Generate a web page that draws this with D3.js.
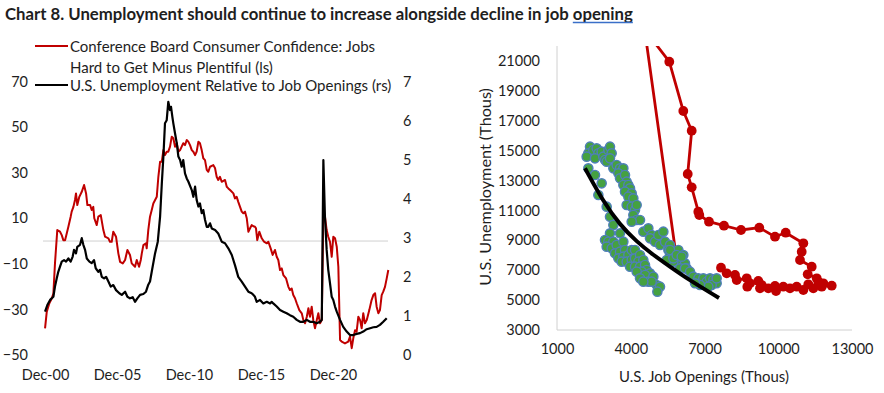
<!DOCTYPE html>
<html><head><meta charset="utf-8">
<script src="https://cdn.jsdelivr.net/npm/d3@7"></script>
<style>
body{margin:0;background:#fff}
svg{display:block}
text{font-family:Lato,"Open Sans",sans-serif;fill:#1e1e1e}
</style>
</head><body>
<svg id="c" width="884" height="393"></svg>
<script>
// ---------------- DATA ----------------
const titleText = "Chart 8. Unemployment should continue to increase alongside decline in job opening";
const underlinedWord = "opening";
const legendRedLines = ["Conference Board Consumer Confidence: Jobs", "Hard to Get Minus Plentiful (ls)"];
const legendBlackLine = "U.S. Unemployment Relative to Job Openings (rs)";

const leftTicks = [70, 50, 30, 10, -10, -30, -50];
const rightTicks = [0, 1, 2, 3, 4, 5, 6, 7];
const timeTicks = [2000.917, 2005.917, 2010.917, 2015.917, 2020.917];
const timeTickLabels = ["Dec-00", "Dec-05", "Dec-10", "Dec-15", "Dec-20"];

// Conference Board: Jobs Hard to Get minus Plentiful (left scale) [decimal year, value]
const jobsHardMinusPlentiful = [
[2000.92,-38.3],[2001.04,-31],[2001.22,-27.3],[2001.39,-25.1],[2001.50,-23],[2001.61,-9.8],[2001.77,4.8],[2001.96,4.1],
[2002.08,2.6],[2002.19,0.4],[2002.31,0.4],[2002.43,3.4],[2002.54,6.3],[2002.70,10.7],[2002.77,12.9],[2002.89,15],
[2003.00,18],[2003.07,20.9],[2003.16,15.8],[2003.30,19.4],[2003.47,21.6],[2003.63,24.6],[2003.77,20.9],[2003.86,15.8],
[2004.05,15.8],[2004.16,13.6],[2004.27,15],[2004.34,10],[2004.51,7],[2004.62,10.7],[2004.79,11.4],[2004.97,4.8],
[2005.09,1.9],[2005.32,1.2],[2005.43,-0.3],[2005.55,-0.3],[2005.66,4.1],[2005.85,1.9],[2006.01,-5.4],[2006.13,-9.1],
[2006.32,-9.8],[2006.48,-8.3],[2006.64,-3.9],[2006.82,-6.1],[2006.94,-9.8],[2007.17,-11.3],[2007.29,-8.3],[2007.45,-11.3],
[2007.57,-8.3],[2007.64,-5.4],[2007.75,-1.8],[2007.93,-1],[2007.98,-3.2],[2008.09,4.8],[2008.21,10.7],[2008.33,13.6],
[2008.44,16.5],[2008.68,19.4],[2008.79,28.2],[2008.91,34.8],[2009.03,34.8],[2009.14,39.9],[2009.25,37.7],[2009.37,39.2],
[2009.48,39.2],[2009.60,41.4],[2009.72,45.8],[2009.83,45.1],[2009.95,41.4],[2010.07,42.9],[2010.18,39.2],[2010.30,39.9],
[2010.41,41.4],[2010.52,42.9],[2010.64,42.1],[2010.76,44.3],[2010.87,43.6],[2010.99,42.1],[2011.11,39.9],[2011.22,39.2],
[2011.34,37.7],[2011.45,39.2],[2011.57,43.6],[2011.68,42.9],[2011.80,39.9],[2011.91,36.3],[2012.03,35.5],[2012.15,31.2],
[2012.26,30.4],[2012.38,32.6],[2012.61,33.3],[2012.73,31.9],[2012.84,28.2],[2012.95,26.8],[2013.07,28.2],[2013.19,26],
[2013.42,26.8],[2013.54,23.8],[2013.65,23.1],[2013.77,22.4],[2014.00,20.9],[2014.11,18.7],[2014.23,19.4],[2014.34,17.2],
[2014.58,12.9],[2014.69,12.2],[2014.81,12.9],[2014.93,10],[2015.04,4.1],[2015.16,5.6],[2015.27,7],[2015.39,6.5],
[2015.50,6.3],[2015.57,5.6],[2015.66,0.4],[2015.80,4.1],[2015.97,1.2],[2016.13,-0.3],[2016.32,-1],[2016.43,-0.3],
[2016.59,-3.2],[2016.73,-6.1],[2016.89,-3.9],[2017.01,-6.9],[2017.12,-8.3],[2017.24,-12.7],[2017.36,-12],[2017.47,-14.9],
[2017.66,-16.4],[2017.82,-20.1],[2017.93,-21.5],[2018.05,-20.8],[2018.16,-23.7],[2018.28,-25.1],[2018.40,-27.3],[2018.58,-30.3],
[2018.75,-31.7],[2018.86,-34.7],[2018.98,-36.1],[2019.10,-33.2],[2019.21,-29.5],[2019.32,-33.2],[2019.44,-28.8],[2019.55,-34.7],
[2019.67,-38.3],[2019.79,-34.7],[2019.90,-31.7],[2020.02,-36.1],[2020.14,-34.7],[2020.25,12.2],[2020.36,10.7],[2020.48,4.8],
[2020.59,1.9],[2020.71,-0.3],[2020.83,-6.9],[2020.94,1.9],[2021.06,1.2],[2021.18,-2.5],[2021.29,-11.3],[2021.41,-43.4],
[2021.52,-44.1],[2021.75,-44.9],[2021.98,-44.1],[2022.10,-41.9],[2022.22,-47],[2022.33,-42.6],[2022.45,-39.1],[2022.56,-39.8],
[2022.68,-33.2],[2022.80,-34.7],[2022.91,-38.3],[2023.02,-31.7],[2023.14,-36.1],[2023.26,-34.7],[2023.44,-30.3],[2023.60,-25.9],
[2023.72,-23.7],[2023.84,-22.9],[2023.95,-28.8],[2024.07,-31.7],[2024.18,-30.3],[2024.30,-23.7],[2024.41,-22.2],[2024.53,-20.1],
[2024.65,-16.4],[2024.76,-12.7]
];

// U.S. unemployment relative to job openings (right scale) [decimal year, ratio]
const unemploymentPerOpening = [
[2000.92,1.11],[2001.08,1.28],[2001.27,1.41],[2001.50,1.49],[2001.61,1.75],[2001.73,1.96],[2001.84,2.13],[2001.96,2.26],
[2002.08,2.39],[2002.24,2.43],[2002.38,2.39],[2002.54,2.47],[2002.70,2.39],[2002.84,2.52],[2002.93,2.69],[2003.07,2.6],
[2003.16,2.77],[2003.35,2.82],[2003.47,2.99],[2003.58,2.82],[2003.70,2.69],[2003.82,2.47],[2004.00,2.39],[2004.16,2.35],
[2004.32,2.43],[2004.44,2.22],[2004.62,2.13],[2004.74,2.18],[2004.86,2.0],[2005.02,1.96],[2005.16,2.0],[2005.32,1.88],
[2005.48,1.75],[2005.66,1.79],[2005.85,1.66],[2006.08,1.58],[2006.25,1.54],[2006.48,1.62],[2006.64,1.49],[2006.82,1.45],
[2007.01,1.48],[2007.17,1.36],[2007.33,1.45],[2007.52,1.54],[2007.75,1.56],[2007.93,1.62],[2008.09,1.8],[2008.21,1.88],
[2008.33,2.13],[2008.56,2.6],[2008.75,2.9],[2008.91,3.54],[2009.03,4.39],[2009.14,5.08],[2009.25,5.93],[2009.37,6.01],
[2009.48,6.48],[2009.60,6.27],[2009.67,6.35],[2009.76,6.1],[2009.83,5.93],[2009.95,5.67],[2010.07,5.42],[2010.18,5.08],
[2010.30,4.99],[2010.41,4.82],[2010.52,4.99],[2010.64,4.65],[2010.76,4.52],[2010.87,4.44],[2011.11,4.22],[2011.22,4.05],
[2011.34,4.31],[2011.45,3.97],[2011.57,3.8],[2011.68,3.88],[2011.80,3.63],[2011.91,3.71],[2012.03,3.46],[2012.15,3.28],
[2012.26,3.28],[2012.38,3.37],[2012.50,3.24],[2012.73,3.2],[2012.95,3.11],[2013.19,2.9],[2013.42,2.86],[2013.65,2.73],
[2013.89,2.56],[2014.11,2.3],[2014.34,2.0],[2014.58,1.88],[2014.81,1.75],[2015.04,1.62],[2015.27,1.58],[2015.39,1.54],
[2015.50,1.49],[2015.62,1.36],[2015.85,1.41],[2016.08,1.32],[2016.32,1.36],[2016.55,1.32],[2016.66,1.36],[2016.77,1.32],
[2017.01,1.24],[2017.24,1.15],[2017.47,1.11],[2017.70,1.07],[2017.93,1.02],[2018.16,0.98],[2018.40,0.9],[2018.63,0.85],
[2018.86,0.85],[2019.10,0.9],[2019.32,0.85],[2019.55,0.85],[2019.79,0.81],[2020.02,0.85],[2020.14,0.9],[2020.25,4.99],
[2020.36,3.54],[2020.48,2.69],[2020.59,2.18],[2020.71,1.84],[2020.83,1.49],[2020.94,1.41],[2021.06,1.24],[2021.18,1.11],
[2021.41,0.9],[2021.63,0.72],[2021.87,0.6],[2022.10,0.51],[2022.33,0.51],[2022.56,0.54],[2022.80,0.56],[2023.02,0.6],
[2023.26,0.66],[2023.44,0.68],[2023.72,0.71],[2023.95,0.72],[2024.18,0.77],[2024.41,0.85],[2024.65,0.94]
];

// Scatter: pre-2020 monthly [job openings, unemployment] (thousands)
const preCovidPoints = [
[2343,15265],[2275,14820],[2207,14596],[2478,15043],[2614,15154],[2682,14820],[2546,14485],[2817,14931],[2885,14596],
[2953,14374],[3088,15043],[3156,15265],[3224,14820],[3021,14262],[3156,14485],[3292,13816],[3427,14039],[3563,13816],
[3699,13816],[3495,13481],[3563,13147],[3766,13370],[3834,12924],[3699,12701],[3902,12701],[3970,12478],[3766,12255],
[4038,12144],[3902,11921],[3834,11363],[4105,11809],[4038,11252],[4173,11029],[4241,11363],[4105,10694],[4241,10360],
[4377,10360],[4038,10248],[2275,13816],[2546,13370],[2817,12812],[2682,12032],[3021,11252],
[3156,10583],[3292,10025],[3156,9468],[3563,9468],[2953,9022],[3088,8910],[3292,8910],[3021,8576],[3224,8464],[3427,8687],
[3699,8910],[3360,8130],[3563,8241],[3766,8353],[3495,7795],[3699,7907],[3902,8018],[4038,8353],[4173,8353],[3631,7572],
[3834,7572],[4038,7684],[4173,7795],[4377,8018],[4309,7572],[4512,7684],[3970,7238],[4173,7238],[4377,7238],[4580,7349],
[4648,7014],[4444,6903],[4241,6903],[4783,6791],[4580,6680],[4377,6457],[4716,6234],[4919,6568],[5055,6011],[5190,5900],
[5082,5565],[4851,6234],[4512,6234],
[4512,9579],[4716,9802],[4851,9356],[4783,9133],[4987,8910],[5122,9356],[5326,9579],[5190,8687],[5394,8910],[5597,8687],
[5529,8353],[5733,8130],[5936,8353],[5597,8018],[5868,7907],[6139,8018],[6004,7572],[6207,7461],[5733,7572],[5461,7684],
[6275,7126],[6004,7126],[5597,8353],[5733,7795],[5868,8018],[6072,7907],[6207,7126],[6411,6903],[6546,6569],[6750,6457],
[6953,6457],[7089,6234],[7224,6457],[7360,6346],[7495,6123],[7292,6011],[7157,5900],[7495,6457],[6817,6011],[6614,6123]
];

// Scatter: 2020 onward path [job openings, unemployment] (thousands)
const covidPath = [
[5800,8500],[4565,23100],[5568,20950],[6138,17650],[6479,16334],[6317,13437],[6479,12547],[6748,10915],[6789,10694],
[7183,10245],[7793,9978],[8485,9690],[9229,9844],[9868,9242],[10303,9510],[11020,8800],[10954,8238],[10885,7683],
[11361,7235],[11198,6726],[11565,6459],[11833,6124],[12175,5964],[11768,5897],[11630,6231],[11426,5790],[11223,6057],
[11020,5676],[10751,5897],[10478,5790],[10206,5897],[9909,5609],[9868,5944],[9596,5790],[9258,5790],[9327,6011],
[9189,6278],[8741,5897],[8851,6124],[8717,6459],[8310,6345],[8241,6680],[7903,6793],[7671,7168]
];

// Trend curve through the pre-2020 scatter
const trendPoints = [[2139,13818],[2884,11583],[3563,10025],[4242,8907],[4917,8018],[5597,7235],[6341,6380],[7590,5141]];

const scatterXTicks = [1000, 4000, 7000, 10000, 13000];
const scatterYTicks = [3000, 5000, 7000, 9000, 11000, 13000, 15000, 17000, 19000, 21000];
const scatterXTitle = "U.S. Job Openings (Thous)";
const scatterYTitle = "U.S. Unemployment (Thous)";

// ---------------- DRAW ----------------
const RED = "#c00000", BLACK = "#000000";
const TICK_FS = 14.5;
const svg = d3.select("#c");

function fit(sel, w) {
  const n = sel.node();
  const cur = n.getComputedTextLength();
  const fs = parseFloat(sel.attr("font-size"));
  sel.attr("font-size", (fs * w / cur).toFixed(2));
}
function styleTicks(g) {
  g.select(".domain").remove();
  g.selectAll("text").attr("font-size", TICK_FS).attr("font-family", "Lato").attr("fill", "#1e1e1e");
}

// Title
const title = svg.append("text").attr("x", 5).attr("y", 13).attr("dominant-baseline", "central")
  .attr("font-weight", "bold").attr("font-size", 15).text(titleText);
fit(title, 628);
{
  const n = title.node();
  const idx = titleText.lastIndexOf(underlinedWord);
  const x0 = n.getStartPositionOfChar(idx).x;
  const x1 = n.getEndPositionOfChar(titleText.length - 1).x;
  svg.append("line").attr("x1", x0).attr("x2", x1).attr("y1", 22.5).attr("y2", 22.5)
    .attr("stroke", "#3a6fc8").attr("stroke-width", 1.6);
}

// ---- Left chart ----
const xT = d3.scaleLinear().domain([2000.917, 2024.76]).range([45, 388.3]);
const yL = d3.scaleLinear().domain([-50, 70]).range([355, 81.5]);
const yR = d3.scaleLinear().domain([0, 7]).range([355, 81.5]);

const gL = svg.append("g");
gL.append("line").attr("x1", 43).attr("x2", 388).attr("y1", yL(0)).attr("y2", yL(0))
  .attr("stroke", "#d0d0d0").attr("stroke-width", 1);

gL.append("g").attr("transform", "translate(28,0)")
  .call(d3.axisLeft(yL).tickValues(leftTicks).tickSize(0).tickPadding(0).tickFormat(d3.format("d")))
  .call(styleTicks);
gL.append("g").attr("transform", "translate(403,0)")
  .call(d3.axisRight(yR).tickValues(rightTicks).tickSize(0).tickPadding(0).tickFormat(d3.format("d")))
  .call(styleTicks);
gL.append("g").attr("transform", "translate(0,370)")
  .call(d3.axisBottom(xT).tickValues(timeTicks).tickSize(0).tickPadding(0).tickFormat((d, i) => timeTickLabels[i]))
  .call(styleTicks);

gL.append("path").datum(jobsHardMinusPlentiful)
  .attr("d", d3.line().x(d => xT(d[0])).y(d => yL(d[1])))
  .attr("fill", "none").attr("stroke", RED).attr("stroke-width", 2).attr("stroke-linejoin", "round");
gL.append("path").datum(unemploymentPerOpening)
  .attr("d", d3.line().x(d => xT(d[0])).y(d => yR(d[1])))
  .attr("fill", "none").attr("stroke", BLACK).attr("stroke-width", 2.2).attr("stroke-linejoin", "round");

// Legend
const legend = svg.append("g");
legend.append("line").attr("x1", 35).attr("x2", 68).attr("y1", 46).attr("y2", 46).attr("stroke", RED).attr("stroke-width", 2);
legend.append("line").attr("x1", 35).attr("x2", 68).attr("y1", 85).attr("y2", 85).attr("stroke", BLACK).attr("stroke-width", 2.2);
const l1 = legend.append("text").attr("x", 70).attr("y", 46).attr("dominant-baseline", "central").attr("font-size", 14).text(legendRedLines[0]);
fit(l1, 305);
const fsL = l1.attr("font-size");
legend.append("text").attr("x", 70).attr("y", 66.5).attr("dominant-baseline", "central").attr("font-size", fsL).text(legendRedLines[1]);
legend.append("text").attr("x", 70).attr("y", 85).attr("dominant-baseline", "central").attr("font-size", fsL).text(legendBlackLine);

// ---- Right chart (scatter) ----
const xS = d3.scaleLinear().domain([1000, 13000]).range([557, 852]);
const yS = d3.scaleLinear().domain([3000, 22000]).range([330, 46]);
const gS = svg.append("g");
svg.append("clipPath").attr("id", "plotclip").append("rect")
  .attr("x", 557).attr("y", 46).attr("width", 300).attr("height", 290);

gS.append("line").attr("x1", 557).attr("x2", 557).attr("y1", 46).attr("y2", 330).attr("stroke", "#d0d0d0");
gS.append("line").attr("x1", 557).attr("x2", 852).attr("y1", 330).attr("y2", 330).attr("stroke", "#d0d0d0");

gS.append("g").attr("transform", "translate(540,0)")
  .call(d3.axisLeft(yS).tickValues(scatterYTicks).tickSize(0).tickPadding(0).tickFormat(d3.format("d")))
  .call(styleTicks);
gS.append("g").attr("transform", "translate(0,344)")
  .call(d3.axisBottom(xS).tickValues(scatterXTicks).tickSize(0).tickPadding(0).tickFormat(d3.format("d")))
  .call(styleTicks);

const xt = gS.append("text").attr("x", 704).attr("y", 376).attr("text-anchor", "middle")
  .attr("dominant-baseline", "central").attr("font-size", 14).text(scatterXTitle);
fit(xt, 170);
const ytl = gS.append("text").attr("transform", "translate(484,187) rotate(-90)").attr("text-anchor", "middle")
  .attr("dominant-baseline", "central").attr("font-size", 14).text(scatterYTitle);
fit(ytl, 198);

const plot = gS.append("g").attr("clip-path", "url(#plotclip)");
plot.append("path").datum(covidPath)
  .attr("d", d3.line().x(d => xS(d[0])).y(d => yS(d[1])))
  .attr("fill", "none").attr("stroke", RED).attr("stroke-width", 2.8).attr("stroke-linejoin", "round");
plot.selectAll("circle.cv").data(covidPath.slice(1)).join("circle").attr("class", "cv")
  .attr("cx", d => xS(d[0])).attr("cy", d => yS(d[1])).attr("r", 4.9).attr("fill", RED);
plot.selectAll("circle.pc").data(preCovidPoints).join("circle").attr("class", "pc")
  .attr("cx", d => xS(d[0])).attr("cy", d => yS(d[1])).attr("r", 4.6)
  .attr("fill", "#45a141").attr("stroke", "#4f7fba").attr("stroke-width", 1.4);
plot.append("path").datum(trendPoints)
  .attr("d", d3.line().curve(d3.curveBasis).x(d => xS(d[0])).y(d => yS(d[1])))
  .attr("fill", "none").attr("stroke", BLACK).attr("stroke-width", 4).attr("stroke-linecap", "butt");
</script>
</body></html>
